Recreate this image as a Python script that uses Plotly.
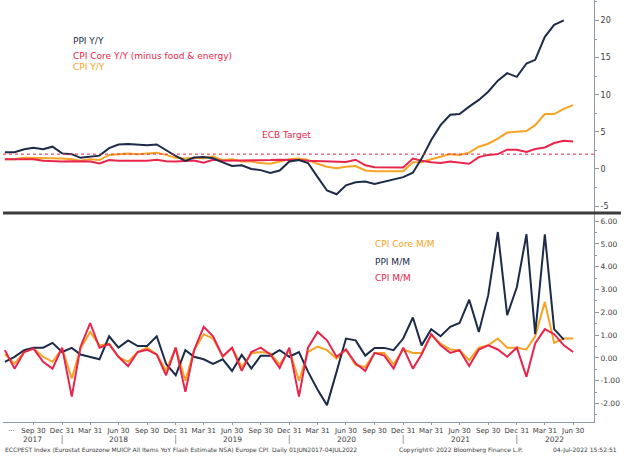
import pandas as pd
import plotly.graph_objects as go

# ---------------- data (monthly, Jun 2017 .. Jun 2022) ----------------
FIRST_MONTH_END = "2017-06-30"
ppi_yy = [2.25, 2.25, 2.65, 2.87, 2.65, 3.0, 2.1, 2.0, 1.5, 1.7, 1.8, 2.8,
          3.3, 3.35, 3.3, 3.2, 3.3, 2.55, 1.75, 1.1, 1.55, 1.6, 1.45, 0.9,
          0.4, 0.5, 0.0, -0.15, -0.55, -0.2, 1.0, 1.2, 0.8, -1.1, -2.9, -3.4,
          -2.2, -1.8, -1.7, -2.0, -1.7, -1.5, -1.1, -0.5, 1.4, 3.9, 5.9, 7.3,
          7.4, 8.4, 9.3, 10.4, 11.9, 12.9, 12.4, 14.2, 14.7, 17.8, 19.4, 20.0]
cpi_core_yy = [1.3, 1.3, 1.3, 1.3, 1.1, 1.05, 1.0, 1.05, 1.0, 1.0, 0.75, 1.2,
               1.1, 1.1, 1.1, 1.1, 1.25, 1.05, 1.0, 1.1, 1.15, 0.85, 1.25, 1.1,
               1.1, 1.1, 1.1, 1.15, 1.2, 1.25, 1.25, 1.2, 1.1, 1.05, 1.0, 0.95,
               0.95, 1.25, 0.5, 0.25, 0.2, 0.2, 0.2, 1.4, 1.1, 0.9, 0.8, 1.0,
               0.9, 0.7, 1.6, 1.9, 2.0, 2.6, 2.6, 2.3, 2.7, 2.9, 3.5, 3.8, 3.7]
cpi_yy = [1.3, 1.3, 1.5, 1.5, 1.4, 1.5, 1.4, 1.3, 1.1, 1.3, 1.2, 1.9,
          2.0, 2.1, 2.0, 2.1, 2.2, 1.9, 1.5, 1.4, 1.5, 1.4, 1.7, 1.2,
          1.3, 1.0, 1.0, 0.8, 0.7, 1.0, 1.3, 1.4, 1.2, 0.7, 0.3, 0.1,
          0.3, 0.4, -0.2, -0.3, -0.3, -0.3, -0.3, 0.9, 0.9, 1.3, 1.6, 2.0,
          1.9, 2.2, 3.0, 3.4, 4.1, 4.9, 5.0, 5.1, 5.9, 7.4, 7.4, 8.1, 8.6]
ECB_TARGET = 2.0

cpi_core_mm = [0.16, -0.25, 0.26, 0.41, 0.05, -0.17, 0.41, -0.9, 0.41, 1.14, 0.55, 0.63,
               0.05, -0.17, 0.26, 0.45, 0.15, -0.55, 0.45, -1.0, 0.34, 1.04, 0.85, 0.05,
               0.45, -0.4, 0.2, 0.26, 0.2, -0.28, 0.34, -1.0, 0.26, 0.5, 0.34, -0.03,
               0.37, -0.32, -0.4, 0.22, 0.22, -0.28, 0.37, 0.22, 0.22, 0.99, 0.63, 0.37,
               0.34, -0.1, 0.45, 0.55, 0.85, 0.45, 0.45, 0.37, 0.95, 2.45, 0.66, 0.85, 0.85]
ppi_mm = [-0.17, 0.05, 0.34, 0.45, 0.45, 0.66, 0.26, 0.44, 0.15, 0.05, -0.06, 0.95,
          0.45, 0.77, 0.52, 0.52, 0.95, -0.26, -0.76, 0.34, 0.05, -0.06, -0.26, -0.06,
          -0.57, 0.13, -0.47, 0.1, 0.1, 0.34, 0.05, 0.26, -0.6, -1.4, -2.07, -0.6,
          0.85, 0.77, 0.1, 0.44, 0.44, 0.34, 0.85, 1.77, 0.55, 1.26, 0.95, 1.36,
          1.53, 2.55, 1.14, 2.74, 5.52, 1.87, 3.1, 5.42, 1.04, 5.42, 1.26, 0.8]
cpi_mm = [0.34, -0.47, 0.26, 0.41, -0.17, -0.47, 0.45, -1.7, 0.48, 1.53, 0.45, 0.6,
          0.05, -0.36, 0.26, 0.36, 0.15, -0.76, 0.45, -1.49, 0.34, 1.36, 0.95, 0.07,
          0.45, -0.57, 0.26, 0.45, 0.15, -0.44, 0.45, -1.7, 0.45, 1.14, 0.77, 0.05,
          0.37, -0.24, -0.57, 0.22, 0.1, -0.47, 0.45, -0.47, 0.15, 1.04, 0.55, 0.22,
          0.34, -0.36, 0.37, 0.55, 0.37, 0.05, 0.45, -0.83, 0.63, 1.26, 1.04, 0.55, 0.26]

top_tickvals = [-5, 0, 5, 10, 15, 20]
top_ticktext = ["-5", "0", "5", "10", "15", "20"]
bot_tickvals = [-2, -1, 0, 1, 2, 3, 4, 5, 6]
bot_ticktext = ["-2.00", "-1.00", "0.00", "1.00", "2.00", "3.00", "4.00", "5.00", "6.00"]
year_labels = ["2017", "2018", "2019", "2020", "2021", "2022"]

top_legend = ["PPI Y/Y", "CPI Core Y/Y (minus food & energy)", "CPI Y/Y"]
bot_legend = ["CPI Core M/M", "PPI M/M", "CPI M/M"]
footer_left = "ECCPEST Index (Eurostat Eurozone MUICP All Items YoY Flash Estimate NSA) Europe CPI  Daily 01JUN2017-04JUL2022"
footer_mid = "Copyright\u00a9 2022 Bloomberg Finance L.P."
footer_right = "04-Jul-2022 15:52:51"

# ---------------- styling ----------------
NAVY = "#1b2b48"
RED = "#e8254c"
ORANGE = "#f7a324"
AXIS = "#8d99a6"
TXT = "#3a3a3a"
FONT = "DejaVu Sans"

dates = pd.date_range("2017-07-01", periods=len(cpi_yy), freq="MS") - pd.Timedelta(days=1)
X_RANGE = ["2017-06-24", "2022-09-05"]
W, H = 636, 461
ML, MR, MT, MB = 3, 42, 0, 39
PW, PH = W - ML - MR, H - MT - MB


def px(x):
    return (x - ML) / PW


def py(y):
    return 1 - (y - MT) / PH


fig = go.Figure()
lw = 2
fig.add_trace(go.Scatter(x=dates[:len(cpi_yy)], y=cpi_yy, mode="lines",
                         line=dict(color=ORANGE, width=lw), xaxis="x", yaxis="y"))
fig.add_trace(go.Scatter(x=dates[:len(cpi_core_yy)], y=cpi_core_yy, mode="lines",
                         line=dict(color=RED, width=lw), xaxis="x", yaxis="y"))
fig.add_trace(go.Scatter(x=dates[:len(ppi_yy)], y=ppi_yy, mode="lines",
                         line=dict(color=NAVY, width=lw), xaxis="x", yaxis="y"))

fig.add_trace(go.Scatter(x=dates[:len(cpi_core_mm)], y=cpi_core_mm, mode="lines",
                         line=dict(color=ORANGE, width=lw), xaxis="x2", yaxis="y2"))
fig.add_trace(go.Scatter(x=dates[:len(ppi_mm)], y=ppi_mm, mode="lines",
                         line=dict(color=NAVY, width=lw), xaxis="x2", yaxis="y2"))
fig.add_trace(go.Scatter(x=dates[:len(cpi_mm)], y=cpi_mm, mode="lines",
                         line=dict(color=RED, width=lw), xaxis="x2", yaxis="y2"))

top_dom = [py(212), 1]
bot_dom = [0, py(214)]

quarter_ends = pd.date_range("2017-07-01", "2022-07-01", freq="QS")[1:] - pd.Timedelta(days=1)
quarter_text = [d.strftime("%b %d") for d in quarter_ends]

fig.update_layout(
    width=W, height=H, margin=dict(l=ML, r=MR, t=MT, b=MB),
    paper_bgcolor="white", plot_bgcolor="white", showlegend=False,
    font=dict(family=FONT, color=TXT, size=8),
    xaxis=dict(domain=[0, 1], anchor="y", range=X_RANGE, type="date",
               visible=False, showgrid=False),
    xaxis2=dict(domain=[0, 1], anchor="y2", range=X_RANGE, type="date",
                showgrid=False, showline=True, linecolor=AXIS, linewidth=1,
                tickvals=quarter_ends, ticktext=quarter_text, ticks="outside",
                ticklen=2, tickcolor="#9a9a9a",
                tickfont=dict(size=7, color=TXT), zeroline=False),
    yaxis=dict(domain=top_dom, anchor="x", side="right", range=[-5.79, 22.75],
               tickvals=top_tickvals, ticktext=top_ticktext, ticks="outside",
               ticklen=4, tickcolor=AXIS, showline=True, linecolor=AXIS,
               showgrid=False, zeroline=False, tickfont=dict(size=8, color=TXT),
               minor=dict(tickmode="linear", tick0=2.5, dtick=5, ticks="outside",
                          ticklen=2, tickcolor=AXIS)),
    yaxis2=dict(domain=bot_dom, anchor="x2", side="right", range=[-2.81, 6.31],
                tickvals=bot_tickvals, ticktext=bot_ticktext, ticks="outside",
                ticklen=4, tickcolor=AXIS, showline=True, linecolor=AXIS,
                showgrid=False, zeroline=False, tickfont=dict(size=7.5, color=TXT),
                minor=dict(tickmode="linear", tick0=0.5, dtick=1, ticks="outside",
                           ticklen=2, tickcolor=AXIS)),
)

shapes = []
# ECB target dotted line
shapes.append(dict(type="line", xref="paper", x0=0, x1=1, yref="y",
                   y0=ECB_TARGET, y1=ECB_TARGET,
                   line=dict(color=RED, width=1, dash="dot")))
# panel divider
shapes.append(dict(type="line", xref="paper", x0=0, x1=px(621), yref="paper",
                   y0=py(213), y1=py(213), line=dict(color="#3c3c3c", width=3)))
# year separators
year_bounds = pd.to_datetime(["2017-12-31", "2018-12-31", "2019-12-31",
                              "2020-12-31", "2021-12-31"])
for d in year_bounds:
    shapes.append(dict(type="line", xref="x2", x0=d, x1=d, yref="paper",
                       y0=py(435), y1=py(444), line=dict(color="#9a9a9a", width=1)))
fig.update_layout(shapes=shapes)

ann = []
bounds = [pd.Timestamp(X_RANGE[0])] + list(year_bounds) + [pd.Timestamp("2022-09-01")]
for i, lab in enumerate(year_labels):
    mid = bounds[i] + (bounds[i + 1] - bounds[i]) / 2
    ann.append(dict(text=lab, xref="x2", x=mid, yref="paper", y=py(439),
                    showarrow=False, font=dict(size=7.5, color=TXT),
                    xanchor="center", yanchor="middle"))
ann.append(dict(text="...", xref="paper", x=px(6), yref="paper", y=py(429),
                showarrow=False, font=dict(size=7, color=TXT), xanchor="left",
                yanchor="middle"))

leg_col_top = [NAVY, RED, ORANGE]
leg_y_top = [41, 55.5, 66.5]
for t, c, yy in zip(top_legend, leg_col_top, leg_y_top):
    ann.append(dict(text=t, xref="paper", x=px(71), yref="paper", y=py(yy),
                    showarrow=False, xanchor="left", yanchor="middle",
                    font=dict(size=9, color=c)))
ann.append(dict(text="ECB Target", xref="paper", x=px(260), yref="paper", y=py(135.5),
                showarrow=False, xanchor="left", yanchor="middle",
                font=dict(size=9, color=RED)))
leg_col_bot = [ORANGE, NAVY, RED]
leg_y_bot = [244.3, 262.3, 277.7]
for t, c, yy in zip(bot_legend, leg_col_bot, leg_y_bot):
    ann.append(dict(text=t, xref="paper", x=px(373), yref="paper", y=py(yy),
                    showarrow=False, xanchor="left", yanchor="middle",
                    font=dict(size=9, color=c)))

ann.append(dict(text=footer_left, xref="paper", x=px(3), yref="paper", y=py(450),
                showarrow=False, xanchor="left", yanchor="middle",
                font=dict(size=6, color=TXT)))
ann.append(dict(text=footer_mid, xref="paper", x=px(397), yref="paper", y=py(450),
                showarrow=False, xanchor="left", yanchor="middle",
                font=dict(size=6, color=TXT)))
ann.append(dict(text=footer_right, xref="paper", x=px(619), yref="paper", y=py(450),
                showarrow=False, xanchor="right", yanchor="middle",
                font=dict(size=6, color=TXT)))
fig.update_layout(annotations=ann)

fig.write_html("out.html", config={"displayModeBar": False},
               post_script="document.body.style.margin='0';document.body.style.overflow='hidden';")
